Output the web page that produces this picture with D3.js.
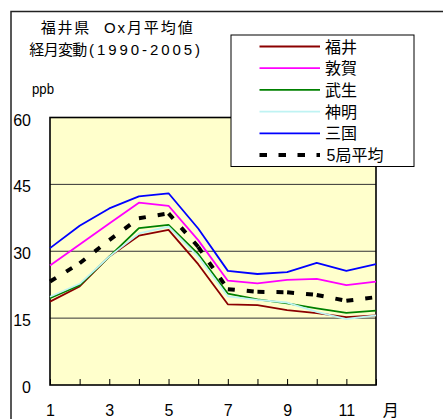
<!DOCTYPE html>
<html>
<head>
<meta charset="utf-8">
<script src="https://cdn.jsdelivr.net/npm/d3@7/dist/d3.min.js"></script>
<style>
  html, body { margin: 0; padding: 0; background: #fff; }
  svg { display: block; }
  text { font-family: "Liberation Sans", "Noto Sans CJK JP", sans-serif; fill: #000; }
</style>
</head>
<body>
<svg id="chart" width="443" height="419"></svg>
<script>
// Monthly mean Ox (ppb) at Fukui prefecture stations, 1990-2005
const months = [1, 2, 3, 4, 5, 6, 7, 8, 9, 10, 11, 12];
const fukui   = [18.7, 22.1, 28.8, 33.5, 34.8, 27.1, 18.1, 17.9, 16.8, 16.1, 15.2, 15.6];
const tsuruga = [26.8, 31.5, 36.2, 40.9, 40.2, 32.5, 23.4, 22.8, 23.6, 23.8, 22.4, 23.2];
const takefu  = [19.5, 22.4, 28.8, 35.2, 35.9, 29.4, 20.5, 19.2, 18.3, 17.2, 16.2, 16.7];
const shinmei = [19.8, 22.7, 28.8, 34.0, 35.5, 28.8, 19.9, 19.1, 18.5, 16.4, 14.8, 15.6];
const mikuni  = [30.7, 35.7, 39.6, 42.3, 43.0, 35.1, 25.6, 24.9, 25.3, 27.4, 25.6, 27.1];
const average = [23.2, 27.3, 32.5, 37.4, 38.5, 31.0, 21.5, 20.9, 20.8, 20.2, 18.9, 19.7];

const seriesNames = ["福井", "敦賀", "武生", "神明", "三国", "5局平均"];
const yTicks = [0, 15, 30, 45, 60];
const xTickLabels = [1, 3, 5, 7, 9, 11];

const series = [
  { name: seriesNames[0], values: fukui,   color: "#8b0000" },
  { name: seriesNames[1], values: tsuruga, color: "#ff00ff" },
  { name: seriesNames[2], values: takefu,  color: "#008000" },
  { name: seriesNames[3], values: shinmei, color: "#bff3f3" },
  { name: seriesNames[4], values: mikuni,  color: "#0000ff" }
];

const svg = d3.select("#chart");
const plot = { left: 50, right: 376, top: 117.5, bottom: 385 };

const x = d3.scaleLinear().domain([1, 12]).range([plot.left, plot.right]);
const y = d3.scaleLinear().domain([0, 60]).range([plot.bottom, plot.top]);

// outer frame
svg.append("rect")
  .attr("x", 11).attr("y", 11.5).attr("width", 480).attr("height", 480)
  .attr("fill", "none").attr("stroke", "#222").attr("stroke-width", 1.5);

// title
svg.append("text").attr("x", 40.7).attr("y", 33).attr("font-size", 15)
  .attr("textLength", 48.6).attr("lengthAdjust", "spacing").text("福井県");
svg.append("text").attr("x", 104).attr("y", 33).attr("font-size", 15)
  .attr("textLength", 88.7).attr("lengthAdjust", "spacing").text("Ox月平均値");
svg.append("text").attr("x", 29.3).attr("y", 55).attr("font-size", 15)
  .attr("textLength", 58).attr("lengthAdjust", "spacing").text("経月変動");
svg.append("text").attr("x", 89).attr("y", 55).attr("font-size", 15)
  .attr("textLength", 111).attr("lengthAdjust", "spacing").text("(1990-2005)");

// unit
svg.append("text").attr("x", 32).attr("y", 94).attr("font-size", 14)
  .attr("textLength", 22).attr("lengthAdjust", "spacingAndGlyphs").text("ppb");

// plot background
svg.append("rect")
  .attr("x", plot.left).attr("y", plot.top)
  .attr("width", plot.right - plot.left).attr("height", plot.bottom - plot.top)
  .attr("fill", "#ffffcc");

// horizontal gridlines
svg.append("g").selectAll("line")
  .data(yTicks.filter(v => v > 0 && v < 60))
  .join("line")
  .attr("x1", plot.left).attr("x2", plot.right)
  .attr("y1", d => y(d)).attr("y2", d => y(d))
  .attr("stroke", "#333").attr("stroke-width", 1);

// y axis labels
const yAxis = d3.axisLeft(y).tickValues(yTicks).tickSize(0).tickPadding(19);
const gy = svg.append("g").attr("transform", `translate(${plot.left},0)`).call(yAxis);
gy.select(".domain").remove();
gy.selectAll("text").attr("font-size", 16).attr("dy", "0.47em")
  .attr("font-family", "Liberation Sans, sans-serif").attr("fill", "#000");

// x axis: inward ticks at each month, labels on odd months
const xAxis = d3.axisBottom(x).tickValues(months).tickSizeInner(-6).tickSizeOuter(0)
  .tickPadding(20).tickFormat(d => xTickLabels.includes(d) ? d : "");
const gx = svg.append("g").attr("transform", `translate(0,${plot.bottom})`).call(xAxis);
gx.select(".domain").remove();
gx.selectAll(".tick line").attr("stroke", "#000").attr("stroke-width", 1);
gx.selectAll("text").attr("font-size", 16).attr("dy", "0.71em")
  .attr("font-family", "Liberation Sans, sans-serif").attr("fill", "#000");

svg.append("text").attr("x", 390.7).attr("y", 416).attr("font-size", 16)
  .attr("text-anchor", "middle").text("月");

// plot frame
svg.append("rect")
  .attr("x", plot.left).attr("y", plot.top)
  .attr("width", plot.right - plot.left).attr("height", plot.bottom - plot.top)
  .attr("fill", "none").attr("stroke", "#000").attr("stroke-width", 1.6);

// series lines
const line = d3.line().x((d, i) => x(months[i])).y(d => y(d));
svg.append("g").selectAll("path")
  .data(series)
  .join("path")
  .attr("d", d => line(d.values))
  .attr("fill", "none")
  .attr("stroke", d => d.color)
  .attr("stroke-width", 1.8)
  .attr("stroke-linejoin", "round");

// five-station average: dashed, pattern restarting at every month
const segs = d3.pairs(average.map((v, i) => [months[i], v]));
svg.append("g").selectAll("path")
  .data(segs)
  .join("path")
  .attr("d", d => d3.line().x(p => x(p[0])).y(p => y(p[1]))(d))
  .attr("fill", "none")
  .attr("stroke", "#000")
  .attr("stroke-width", 4)
  .attr("stroke-dasharray", "7,12");

// legend
const legend = svg.append("g");
legend.append("rect")
  .attr("x", 231).attr("y", 35).attr("width", 183).attr("height", 131.5)
  .attr("fill", "#fff").attr("stroke", "#000").attr("stroke-width", 1);

const legendItems = series.map(s => ({ name: s.name, color: s.color, dash: null, width: 1.8 }))
  .concat([{ name: seriesNames[5], color: "#000", dash: "7.5,11.5", width: 4 }]);

const row = legend.selectAll("g.item")
  .data(legendItems)
  .join("g")
  .attr("class", "item")
  .attr("transform", (d, i) => `translate(0,${46.5 + i * 21.7})`);

row.append("line")
  .attr("x1", 259.5).attr("x2", 320).attr("y1", 0).attr("y2", 0)
  .attr("stroke", d => d.color).attr("stroke-width", d => d.width)
  .attr("stroke-dasharray", d => d.dash);

row.append("text")
  .attr("x", d => d.dash ? 326.5 : 325).attr("y", 6).attr("font-size", 16)
  .text(d => d.name);
</script>
</body>
</html>
